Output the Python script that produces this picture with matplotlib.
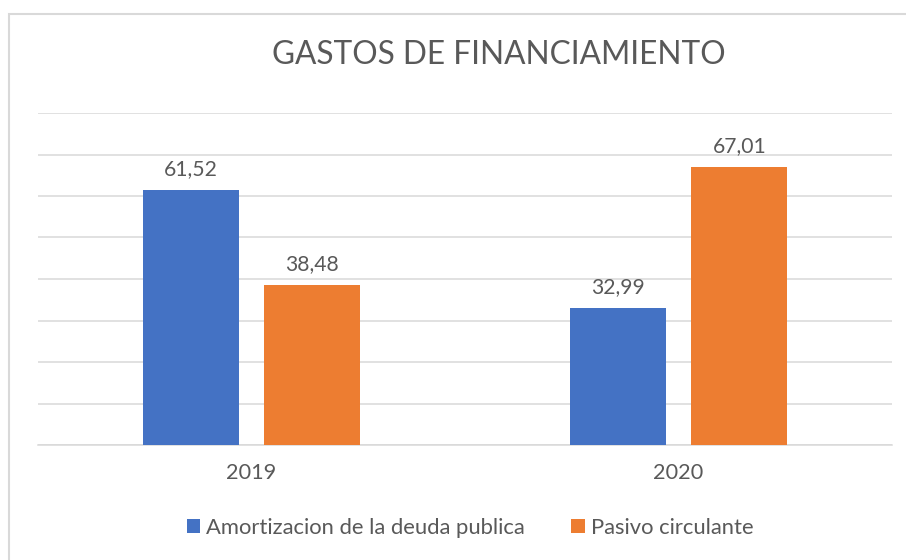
import matplotlib
matplotlib.use("Agg")
import matplotlib.pyplot as plt
from matplotlib.patches import Rectangle
import numpy as np

categories = ["2019", "2020"]
series_names = ["Amortizacion de la deuda publica", "Pasivo circulante"]
amortizacion = [61.52, 32.99]
pasivo = [38.48, 67.01]
labels_amort = ["61,52", "32,99"]
labels_pasivo = ["38,48", "67,01"]
title = "GASTOS DE FINANCIAMIENTO"

plt.rcParams['font.family'] = ['Lato', 'DejaVu Sans']
txt = '#595959'
grid = '#d9d9d9'

W, H = 906, 560
fig = plt.figure(figsize=(W/100, H/100), dpi=100)
fig.patch.set_facecolor('white')

# chart area border (only top and left visible)
fig.patches.append(Rectangle((9/W, -0.1), 1.2, (560-14)/H + 0.1, transform=fig.transFigure,
                             fill=False, edgecolor=grid, linewidth=1.5))

ax = fig.add_axes([38/W, (H-445)/H, (892-38)/W, (445-113)/H])
x = np.arange(len(categories))
bw = 0.225
off = 0.1425
b1 = ax.bar(x - off, amortizacion, bw, color='#4472C4', zorder=3, label=series_names[0])
b2 = ax.bar(x + off, pasivo, bw, color='#ED7D31', zorder=3, label=series_names[1])

for rects, labs in ((b1, labels_amort), (b2, labels_pasivo)):
    for r, lab in zip(rects, labs):
        ax.annotate(lab, (r.get_x() + r.get_width()/2, r.get_height()),
                    xytext=(0, 11), textcoords='offset pixels', ha='center', va='bottom',
                    fontsize=15.2, color=txt)

ax.set_xlim(-0.5, 1.5)
ax.set_ylim(0, 80)
ax.set_yticks(np.arange(0, 81, 10))
ax.yaxis.grid(True, color=grid, linewidth=1.1, zorder=0)
ax.tick_params(axis='y', left=False, labelleft=False)
ax.tick_params(axis='x', length=0, pad=13, labelsize=15.6, labelcolor=txt)
ax.set_xticks(x)
ax.set_xticklabels(categories)
for s in ['top', 'right', 'left']:
    ax.spines[s].set_visible(False)
ax.spines['bottom'].set_color(grid)
ax.spines['bottom'].set_linewidth(1.1)

fig.text(499/W, 1 - 55/H, title, ha='center', va='center', fontsize=22.8, color=txt)

leg = fig.legend(handles=[b1, b2], loc='center', bbox_to_anchor=(470/W, 1 - 528/H),
                 ncol=2, frameon=False, fontsize=15.8, handlelength=0.62, handleheight=0.62,
                 handletextpad=0.28, columnspacing=2.1, labelcolor=txt)

fig.savefig('out.png', dpi=100)
